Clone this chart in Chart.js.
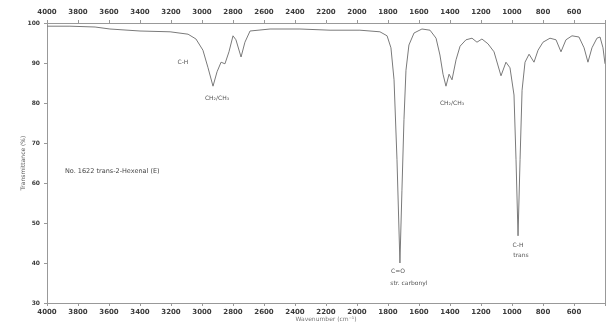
<!DOCTYPE html>
<html>
<head>
<meta charset="utf-8">
<script src="https://cdn.jsdelivr.net/npm/chart.js@4/dist/chart.umd.min.js"></script>
<style>
  html, body { margin: 0; padding: 0; background: #fff; }
  #wrap { width: 614px; height: 323px; }
</style>
</head>
<body>
<div id="wrap"><canvas id="ir"></canvas></div>
<script>
// IR spectrum: wavenumber (cm-1) vs. transmittance (%)
const wavenumbers = [
  4000, 3852, 3690, 3594, 3400, 3206, 3090, 3039, 2994, 2961,
  2929, 2903, 2877, 2852, 2826, 2800, 2781, 2748, 2723, 2690,
  2561, 2368, 2174, 1981, 1852, 1806, 1781, 1761, 1742, 1723,
  1710, 1697, 1684, 1665, 1632, 1581, 1529, 1490, 1465, 1445,
  1426, 1406, 1387, 1361, 1335, 1297, 1258, 1226, 1194, 1155,
  1116, 1071, 1039, 1013, 987, 974, 961, 948, 935, 916,
  890, 858, 832, 800, 755, 716, 684, 652, 613, 568,
  535, 510, 484, 452, 432, 413, 400
];
const transmittance = [
  99.2, 99.2, 99.0, 98.5, 98.0, 97.8, 97.2, 96.0, 93.2, 88.8,
  84.2, 87.8, 90.2, 89.8, 92.8, 96.8, 95.8, 91.5, 95.2, 98.0,
  98.5, 98.5, 98.2, 98.2, 97.8, 96.8, 93.8, 85.8, 65.8, 40.0,
  58.2, 75.8, 88.2, 94.5, 97.5, 98.5, 98.2, 96.2, 92.0, 87.2,
  84.2, 87.2, 85.8, 90.8, 94.2, 95.8, 96.2, 95.2, 96.0, 94.8,
  92.8, 86.8, 90.2, 88.8, 82.0, 65.8, 46.8, 65.8, 83.2, 90.2,
  92.2, 90.2, 93.2, 95.2, 96.2, 95.8, 92.8, 95.8, 96.8, 96.5,
  93.8, 90.2, 93.8, 96.2, 96.5, 93.8, 89.8
];

// Axis ranges and tick spacing
const xRange = [400, 4000];
const xStep = 200;
const yRange = [30, 100];
const yStep = 10;

// Band assignments written on the chart, anchored at [wavenumber, %T]
const bandText = ["C-H", "CH\u2082/CH\u2083", "CH\u2082/CH\u2083", "C=O", "str. carbonyl", "C-H", "trans"];
const bandWn   = [3123, 2903, 1387, 1735, 1665, 961, 942];
const bandT    = [90.2, 81.2, 79.8, 37.8, 35.0, 44.5, 41.8];
const sampleNote = "No. 1622 trans-2-Hexenal (E)";
const sampleNoteAt = [3884, 62.8];

const points = wavenumbers.map((w, i) => ({ x: w, y: transmittance[i] }));

const FONT = "'DejaVu Sans', 'Liberation Sans', sans-serif";
const INK = '#3a3a3a';

// Right-hand frame edge plus the band notes
const bandLabels = {
  id: 'bandLabels',
  afterDatasetsDraw(chart) {
    const { ctx, scales, chartArea } = chart;
    const xs = scales.x, ys = scales.y;
    ctx.save();
    ctx.strokeStyle = '#999';
    ctx.lineWidth = 1;
    ctx.beginPath();
    ctx.moveTo(Math.round(chartArea.right) + 0.5, chartArea.top);
    ctx.lineTo(Math.round(chartArea.right) + 0.5, chartArea.bottom);
    ctx.stroke();

    ctx.fillStyle = '#555';
    ctx.font = "6px " + FONT;
    ctx.textAlign = 'center';
    ctx.textBaseline = 'middle';
    bandText.forEach((t, i) => {
      ctx.fillText(t, xs.getPixelForValue(bandWn[i]), ys.getPixelForValue(bandT[i]));
    });
    ctx.textAlign = 'left';
    ctx.font = "6.5px " + FONT;
    ctx.fillStyle = '#444';
    ctx.fillText(sampleNote, xs.getPixelForValue(sampleNoteAt[0]), ys.getPixelForValue(sampleNoteAt[1]));
    ctx.restore();
  }
};

const xAxisBase = (pos, h, pad) => ({
  type: 'linear',
  position: pos,
  reverse: true,
  min: xRange[0],
  max: xRange[1],
  afterBuildTicks(scale) {
    const t = [];
    for (let v = xRange[0]; v <= xRange[1]; v += xStep) t.push({ value: v });
    scale.ticks = t;
  },
  afterFit(scale) { scale.height = h; },
  ticks: {
    autoSkip: false,
    maxRotation: 0,
    minRotation: 0,
    padding: pad,
    color: INK,
    font: { family: FONT, size: 7, weight: 'bold' },
    callback: v => (v === xRange[0] ? '' : String(v))
  },
  grid: { drawOnChartArea: false, tickLength: 3, color: '#999' },
  border: { color: '#999', width: 1 }
});

const xBottom = xAxisBase('bottom', 20, 2);
xBottom.title = {
  display: true,
  text: 'Wavenumber (cm\u207B\u00B9)',
  color: '#777',
  font: { family: FONT, size: 6 },
  padding: { top: 0, bottom: 0 }
};
const xTop = xAxisBase('top', 23, 4);

new Chart(document.getElementById('ir'), {
  type: 'line',
  data: {
    datasets: [{
      data: points,
      xAxisID: 'x',
      yAxisID: 'y',
      borderColor: '#7a7a7a',
      borderWidth: 1,
      pointRadius: 0,
      tension: 0,
      fill: false
    }]
  },
  options: {
    responsive: true,
    maintainAspectRatio: false,
    animation: false,
    devicePixelRatio: 1,
    layout: { padding: { left: 0, right: 9, top: 0, bottom: 0 } },
    plugins: { legend: { display: false }, tooltip: { enabled: false } },
    scales: {
      x: xBottom,
      x2: xTop,
      y: {
        type: 'linear',
        position: 'left',
        min: yRange[0],
        max: yRange[1],
        afterFit(scale) { scale.width = 47; },
        ticks: {
          stepSize: yStep,
          padding: 4,
          color: INK,
          font: { family: FONT, size: 6, weight: 'bold' }
        },
        grid: { drawOnChartArea: false, tickLength: 3, color: '#999' },
        border: { color: '#999', width: 1 },
        title: {
          display: true,
          text: 'Transmittance (%)',
          color: '#555',
          font: { family: FONT, size: 6 },
          padding: { top: 20, bottom: 0 }
        }
      }
    }
  },
  plugins: [bandLabels]
});
</script>
</body>
</html>
